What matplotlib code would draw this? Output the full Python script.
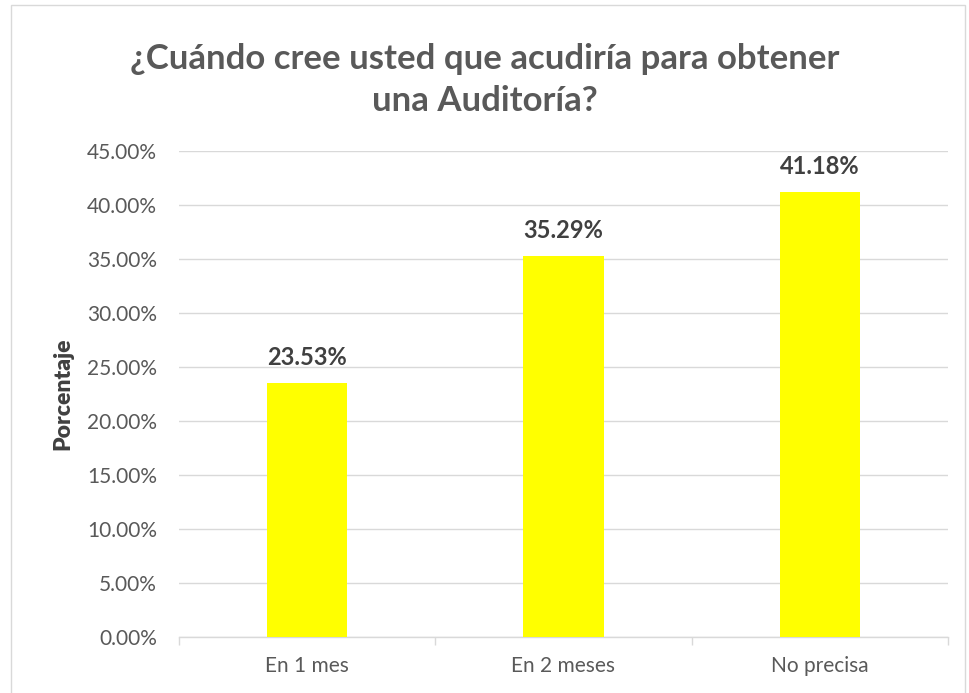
import matplotlib
matplotlib.use("Agg")
import matplotlib.pyplot as plt
from matplotlib.ticker import FuncFormatter, FixedLocator
from matplotlib.patches import Rectangle

categories = ["En 1 mes", "En 2 meses", "No precisa"]
values = [23.53, 35.29, 41.18]
title = "¿Cuándo cree usted que acudiría para obtener\nuna Auditoría?"
ylabel = "Porcentaje"

plt.rcParams['font.family'] = ['Lato', 'DejaVu Sans']

fig = plt.figure(figsize=(9.7, 6.93), dpi=100)
fig.patches.append(Rectangle((11/970, -0.01), (965-11)/970, 1 - 5/693 + 0.01,
                             transform=fig.transFigure, fill=False,
                             edgecolor='#d9d9d9', linewidth=1.0))
ax = fig.add_axes([179/970, 1-637/693, (948-179)/970, (637-151)/693])

x = list(range(len(categories)))
ax.bar(x, values, width=0.3125, color='#ffff00', zorder=3)
ax.set_xlim(-0.5, len(categories) - 0.5)
ax.set_ylim(0, 45)
ax.set_yticks([0, 5, 10, 15, 20, 25, 30, 35, 40, 45])
ax.yaxis.set_major_formatter(FuncFormatter(lambda v, p: f"{v:.2f}%"))
ax.grid(axis='y', color='#d9d9d9', linewidth=1.0, zorder=0)
ax.set_xticks(x)
ax.set_xticklabels(categories)
ax.xaxis.set_minor_locator(FixedLocator([-0.5, 0.5, 1.5, 2.5]))
ax.tick_params(axis='x', which='major', length=0, pad=14, labelsize=15, labelcolor='#595959')
ax.tick_params(axis='x', which='minor', length=6, color='#d9d9d9', width=1.0)
ax.tick_params(axis='y', length=0, pad=16, labelsize=15, labelcolor='#595959')
for s in ['top', 'right', 'left']:
    ax.spines[s].set_visible(False)
ax.spines['bottom'].set_color('#d9d9d9')
ax.spines['bottom'].set_linewidth(1.0)

for xi, v in zip(x, values):
    ax.annotate(f"{v:.2f}%", (xi, v), xytext=(0, 10), textcoords='offset points',
                ha='center', va='bottom', fontsize=17, fontweight='bold', color='#404040')

ax.set_ylabel(ylabel, fontsize=16.5, fontweight='heavy', color='#404040')
ax.yaxis.set_label_coords(-0.137, 0.5)
fig.text(0.5, 1 - 80/693, title, ha='center', va='center', fontsize=25,
         fontweight='bold', color='#595959', linespacing=1.42)

fig.savefig("out.png", dpi=100)
